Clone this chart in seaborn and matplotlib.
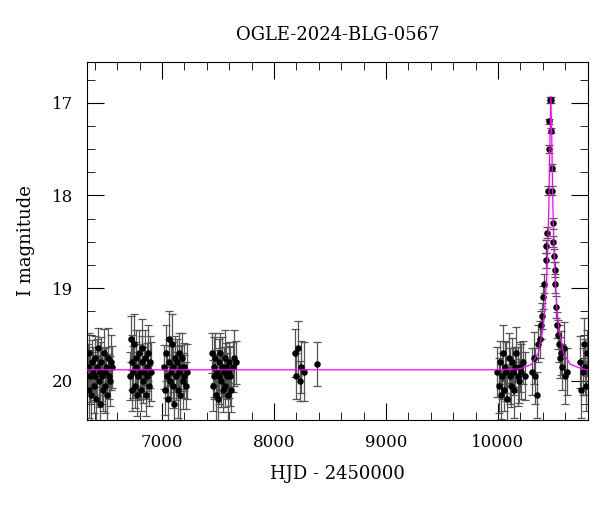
import numpy as np
import pandas as pd
import seaborn as sns
import matplotlib.pyplot as plt
from matplotlib.ticker import MultipleLocator

# photometry
hjd = [6338, 6345, 6352, 6360, 6368, 6375, 6382, 6390, 6398, 6405, 6412, 6420, 6428, 6435,
       6442, 6450, 6458, 6465, 6472, 6480, 6488, 6495, 6502, 6510, 6518, 6525, 6535, 6545, 6555,
       6712, 6720, 6728, 6735, 6742, 6750, 6758, 6765, 6772, 6780, 6788, 6795, 6802, 6810, 6818,
       6825, 6832, 6840, 6848, 6855, 6862, 6870, 6878, 6885, 6892, 6900,
       7020, 7028, 7035, 7042, 7050, 7058, 7065, 7072, 7080, 7088, 7095, 7102, 7110, 7118, 7125,
       7132, 7140, 7148, 7155, 7162, 7170, 7178, 7185, 7192, 7200, 7210, 7220,
       7445, 7452, 7460, 7468, 7475, 7482, 7490, 7498, 7505, 7512, 7520, 7528, 7535, 7542, 7550,
       7558, 7565, 7572, 7580, 7588, 7595, 7602, 7610, 7620, 7632, 7645, 7660,
       8190, 8200, 8215, 8230, 8245, 8265, 8380,
       9995, 10005, 10015, 10025, 10035, 10045, 10055, 10065, 10075, 10085, 10095, 10105, 10115,
       10125, 10135, 10145, 10155, 10165, 10175, 10185, 10195, 10210, 10225, 10240,
       10300, 10320, 10335, 10350, 10360, 10375, 10385, 10395, 10405, 10415, 10425, 10432, 10440,
       10448, 10455, 10460, 10466, 10470, 10476, 10480, 10485, 10490, 10495, 10500, 10505, 10512,
       10520, 10528, 10535, 10545, 10555, 10565, 10575, 10590, 10600, 10615,
       10735, 10745, 10755, 10765, 10775, 10785, 10795]
imag = [19.85, 20.1, 19.7, 19.95, 20.15, 19.8, 19.9, 20.05, 19.75, 19.95, 20.2, 19.85, 19.65, 20.0,
        19.9, 20.25, 19.8, 19.95, 20.1, 19.7, 19.9, 20.05, 19.85, 20.15, 19.75, 19.95, 20.0, 19.8, 19.85,
        19.95, 19.55, 19.8, 20.1, 19.9, 19.6, 20.05, 19.85, 19.75, 20.15, 19.95, 19.7, 19.9, 20.1, 19.8,
        19.65, 20.0, 19.9, 19.75, 20.15, 19.85, 19.95, 19.7, 20.05, 19.8, 19.9,
        19.85, 20.1, 19.7, 19.95, 20.2, 19.8, 19.55, 20.0, 19.9, 19.6, 20.05, 19.85, 20.25, 19.75,
        19.95, 19.8, 20.1, 19.7, 19.9, 20.15, 19.85, 19.75, 20.0, 19.95, 19.85, 20.05, 19.9,
        19.7, 20.05, 19.85, 19.95, 19.75, 20.15, 19.9, 20.2, 19.8, 19.95, 19.7, 20.0, 19.85, 20.1,
        19.9, 19.75, 20.05, 19.85, 19.95, 20.15, 19.8, 19.9, 19.95, 20.1, 19.85, 19.75, 19.8,
        19.7, 19.95, 19.65, 20.0, 19.85, 19.9, 19.82,
        19.9, 20.05, 19.8, 20.15, 19.95, 19.7, 20.1, 19.85, 19.9, 20.2, 19.75, 19.95, 20.05,
        19.8, 19.9, 20.1, 19.85, 19.7, 19.95, 20.0, 19.85, 19.9, 19.8, 19.95,
        19.9, 19.75, 19.95, 20.15, 19.6, 19.55, 19.4, 19.3, 19.1, 18.95, 18.7, 18.55, 18.4,
        17.95, 17.5, 17.2, 16.97, 16.97, 17.3, 17.7, 17.95, 18.3, 18.5, 18.65, 18.8, 18.95,
        19.2, 19.4, 19.5, 19.6, 19.75, 19.7, 19.85, 19.65, 19.95, 19.9,
        19.8, 20.1, 19.9, 19.6, 19.85, 20.05, 19.7]
base_err = [0.25, 0.3, 0.22, 0.28, 0.32, 0.24, 0.27, 0.3, 0.23, 0.26] * 14
event_err = [0.25, 0.28, 0.3, 0.25, 0.2, 0.2, 0.15, 0.14, 0.12, 0.1, 0.08, 0.07, 0.06,
             0.05, 0.04, 0.03, 0.03, 0.03, 0.03, 0.04, 0.05, 0.06, 0.06, 0.07, 0.08, 0.1,
             0.12, 0.14, 0.16, 0.2, 0.22, 0.24, 0.25, 0.28, 0.3, 0.25]
tail_err = [0.28, 0.3, 0.25, 0.28, 0.3, 0.27, 0.25]
ierr = base_err + event_err + tail_err

# fitted model curve
model_t = [6330, 10000, 10200, 10300, 10360, 10400, 10420, 10440, 10455, 10465, 10472,
           10480, 10490, 10505, 10525, 10545, 10585, 10645, 10750, 10804]
model_m = [19.88, 19.88, 19.87, 19.82, 19.7, 19.45, 19.2, 18.75, 18.1, 17.35, 16.93,
           17.35, 18.1, 18.75, 19.2, 19.45, 19.7, 19.82, 19.87, 19.88]

df = pd.DataFrame({"hjd": hjd, "imag": imag, "err": ierr})
mod = pd.DataFrame({"t": model_t, "m": model_m})

plt.rcParams["font.family"] = "DejaVu Serif"
fig, ax = plt.subplots(figsize=(6, 5.12), dpi=100)
fig.subplots_adjust(left=0.145, right=0.98, top=0.879, bottom=0.18)

ax.errorbar(df.hjd, df.imag, yerr=df.err, fmt="none", ecolor="#555555",
            elinewidth=0.9, capsize=3, capthick=0.9, zorder=2)
sns.scatterplot(data=df, x="hjd", y="imag", color="black", s=22, edgecolor="black",
                linewidth=0, ax=ax, zorder=3)
sns.lineplot(data=mod, x="t", y="m", color="magenta", linewidth=0.9, ax=ax, zorder=4)

ax.set_xlim(6330, 10804)
ax.set_ylim(20.42, 16.56)
ax.xaxis.set_major_locator(MultipleLocator(1000))
ax.xaxis.set_minor_locator(MultipleLocator(200))
ax.yaxis.set_major_locator(MultipleLocator(1))
ax.yaxis.set_minor_locator(MultipleLocator(0.25))
ax.tick_params(which="both", direction="in", top=True, right=True, labelsize=12, pad=10)
ax.tick_params(which="major", length=12)
ax.tick_params(which="minor", length=6)
ax.set_xlabel("HJD - 2450000", fontsize=13, labelpad=10)
ax.set_ylabel("I magnitude", fontsize=13, labelpad=12)
ax.set_title("OGLE-2024-BLG-0567", fontsize=13, pad=16)
fig.savefig("out.png")
